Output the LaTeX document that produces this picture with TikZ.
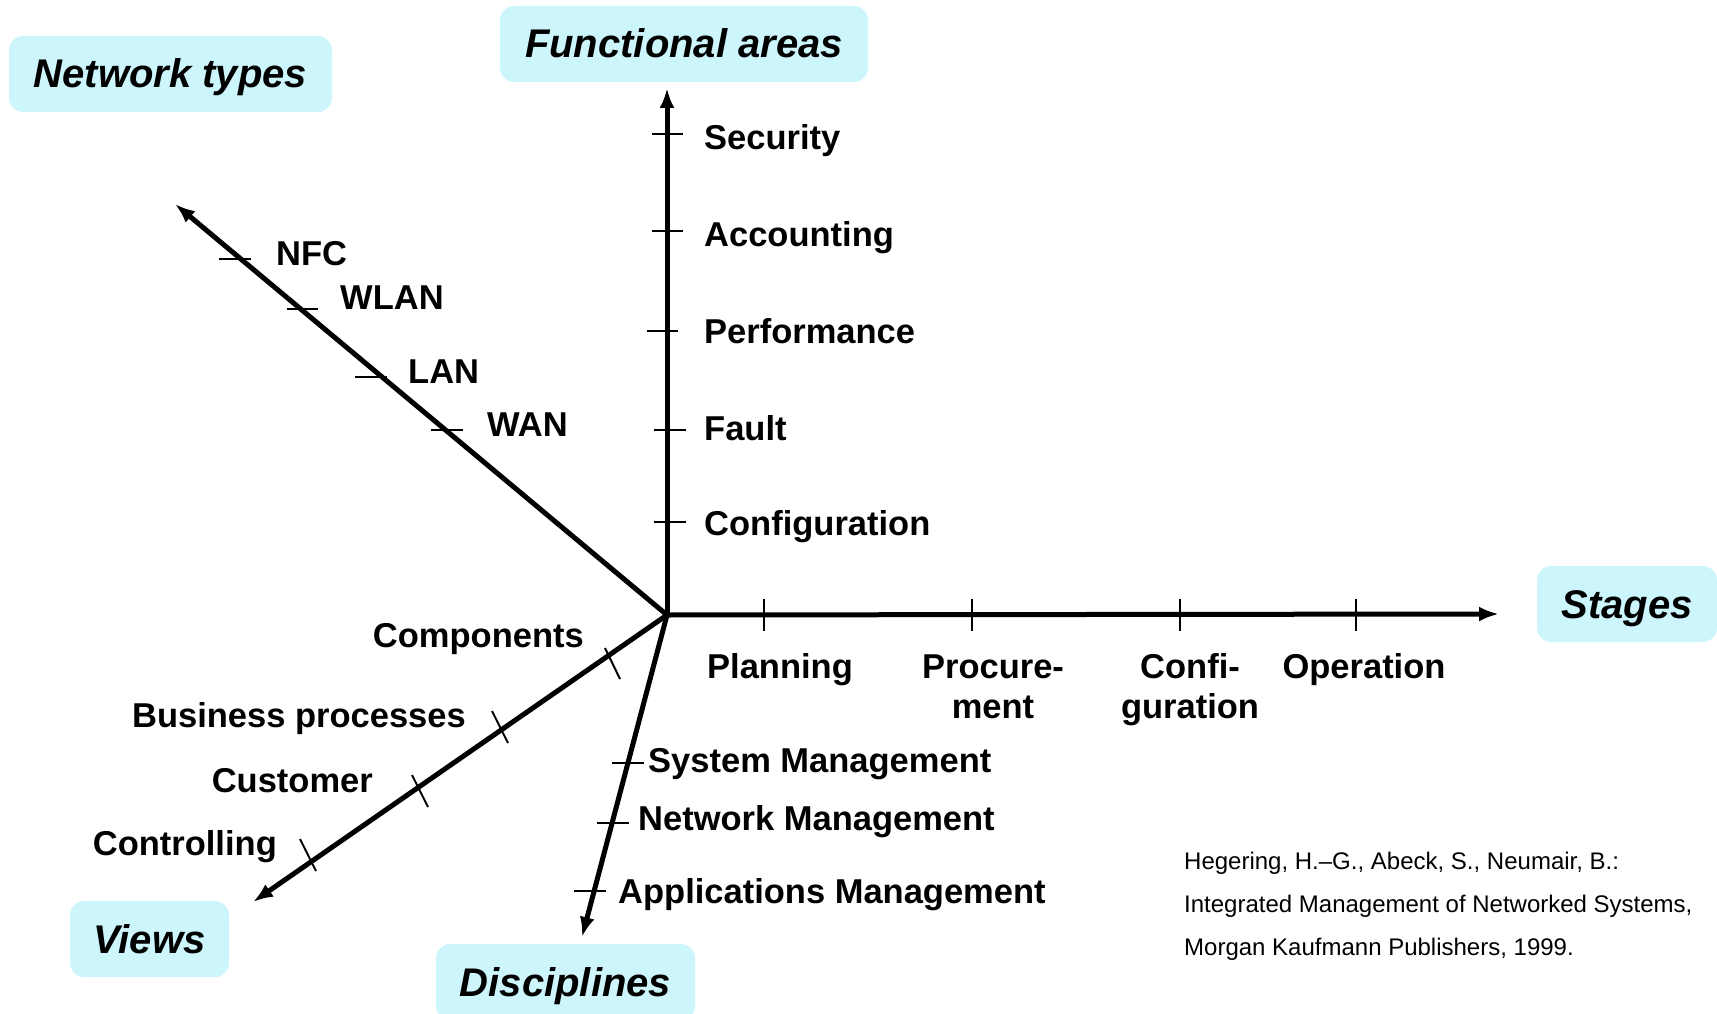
\documentclass[tikz,border=0pt]{standalone}
\usepackage{fontspec}
\setmainfont{Liberation Sans}
\usetikzlibrary{arrows.meta}
\definecolor{boxcyan}{RGB}{204,245,252}
\tikzset{
  axis/.style={line width=5pt, line cap=round, -{Latex[length=20pt,width=15pt]}},
  tick/.style={line width=2pt},
  title/.style={fill=boxcyan, rounded corners=14pt, minimum height=76pt, inner xsep=0pt,
    text height=28pt, text depth=0pt, font=\bfseries\itshape\fontsize{40}{46}\selectfont},
  lbl/.style={font=\bfseries\fontsize{34.5}{40}\selectfont, inner sep=0pt},
  cite/.style={font=\fontsize{24}{43}\selectfont, inner sep=0pt, align=left}
}
\begin{document}
\begin{tikzpicture}[x=1pt,y=-1pt]
\useasboundingbox (0,0) rectangle (1717,1014);
% boxes
\node[title, minimum width=323pt] (nettypes) at (170.5,74) {Network types};
\node[title, minimum width=368pt] (funcareas) at (684,44) {Functional areas};
\node[title, minimum width=180pt] (stages) at (1627,604) {Stages};
\node[title, minimum width=159pt] (views) at (149.5,939) {Views};
\node[title, minimum width=259pt] (disciplines) at (565.5,982) {Disciplines};
% axes
\coordinate (O) at (667,615);
\coordinate (faend) at (667,88);
\coordinate (stend) at (1499,614);
\coordinate (ntend) at (175,204);
\coordinate (vwend) at (253,902);
\coordinate (diend) at (582,937);
\draw[axis] (O) -- (faend);
\draw[axis] (O) -- (stend);
\draw[axis] (O) -- (ntend);
\draw[axis] (O) -- (vwend);
\draw[axis] (O) -- (diend);
% functional areas
\draw[tick] (652,134) -- (683,134);
\draw[tick] (652,231) -- (683,231);
\draw[tick] (647,331) -- (678,331);
\draw[tick] (654,430) -- (686,430);
\draw[tick] (654,522) -- (686,522);
\node[lbl, anchor=base west] (security) at (704,150) {Security};
\node[lbl, anchor=base west] (accounting) at (704,246) {Accounting};
\node[lbl, anchor=base west] (performance) at (704,343) {Performance};
\node[lbl, anchor=base west] (fault) at (704,440) {Fault};
\node[lbl, anchor=base west] (configuration) at (704,535) {Configuration};
% stages
\draw[tick] (764,599) -- (764,631);
\draw[tick] (972,599) -- (972,631);
\draw[tick] (1180,599) -- (1180,631);
\draw[tick] (1356,599) -- (1356,631);
\node[lbl, anchor=base west] (planning) at (707,678) {Planning};
\node[lbl, anchor=base, align=center] (procurement) at (993,718) {Procure-\\ment};
\node[lbl, anchor=base, align=center] (confi) at (1190,718) {Confi-\\guration};
\node[lbl, anchor=base] (operation) at (1364,678) {Operation};
% network types
\draw[tick] (219,259) -- (251,259);
\draw[tick] (287,309) -- (318,309);
\draw[tick] (355,377) -- (387,377);
\draw[tick] (431,430) -- (463,430);
\node[lbl, anchor=base west] (nfc) at (276,265) {NFC};
\node[lbl, anchor=base west] (wlan) at (340,309) {WLAN};
\node[lbl, anchor=base west] (lan) at (408,383) {LAN};
\node[lbl, anchor=base west] (wan) at (487,436) {WAN};
% views
\draw[tick] (605,648) -- (620,679);
\draw[tick] (492,711) -- (508,743);
\draw[tick] (412,775) -- (428,807);
\draw[tick] (300,839) -- (316,871);
\node[lbl, anchor=base east] (components) at (584,647) {Components};
\node[lbl, anchor=base east] (business) at (466,727) {Business processes};
\node[lbl, anchor=base east] (customer) at (373,792) {Customer};
\node[lbl, anchor=base east] (controlling) at (277,855) {Controlling};
% disciplines
\draw[tick] (612,763) -- (644,763);
\draw[tick] (597,823) -- (629,823);
\draw[tick] (574,891) -- (606,891);
\node[lbl, anchor=base west] (sysmgmt) at (648,772) {System Management};
\node[lbl, anchor=base west] (netmgmt) at (638,830) {Network Management};
\node[lbl, anchor=base west] (appmgmt) at (618,903) {Applications Management};
% reference
\node[cite, anchor=base west] (ref) at (1184,955) {Hegering, H.--G., Abeck, S., Neumair, B.:\\Integrated Management of Networked Systems,\\Morgan Kaufmann Publishers, 1999.};
\end{tikzpicture}
\end{document}
